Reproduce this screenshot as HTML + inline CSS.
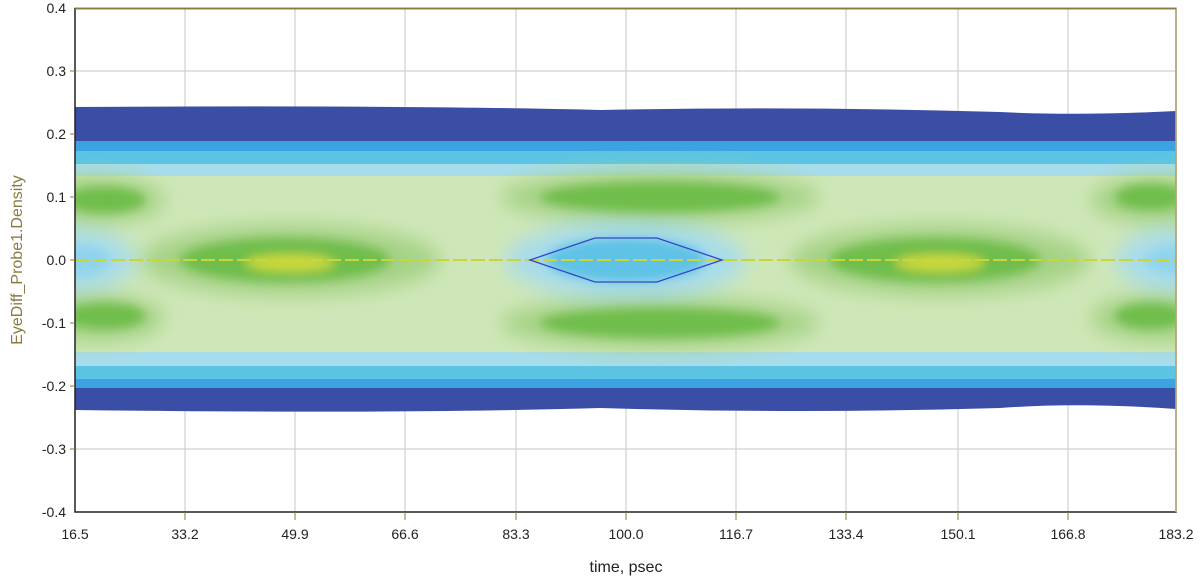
<!DOCTYPE html>
<html><head><meta charset="utf-8"><style>
html,body{margin:0;padding:0;background:#fff;}
svg{display:block;font-family:"Liberation Sans",sans-serif;}
</style></head><body>
<svg width="1200" height="583" viewBox="0 0 1200 583" xmlns="http://www.w3.org/2000/svg">
<defs>
<filter id="b" x="-20%" y="-50%" width="140%" height="200%"><feGaussianBlur stdDeviation="10"/></filter>
<filter id="b2" x="-20%" y="-50%" width="140%" height="200%"><feGaussianBlur stdDeviation="5"/></filter>
<clipPath id="c"><rect x="75" y="100" width="1101" height="320"/></clipPath>
</defs>
<g stroke="#cfd2cc" stroke-width="1.2">
<line x1="75" y1="71" x2="1176" y2="71"/><line x1="75" y1="134" x2="1176" y2="134"/>
<line x1="75" y1="197" x2="1176" y2="197"/><line x1="75" y1="323" x2="1176" y2="323"/>
<line x1="75" y1="386" x2="1176" y2="386"/><line x1="75" y1="449" x2="1176" y2="449"/>
<line x1="185" y1="8" x2="185" y2="512"/><line x1="295" y1="8" x2="295" y2="512"/>
<line x1="405" y1="8" x2="405" y2="512"/><line x1="516" y1="8" x2="516" y2="512"/>
<line x1="626" y1="8" x2="626" y2="512"/><line x1="736" y1="8" x2="736" y2="512"/>
<line x1="846" y1="8" x2="846" y2="512"/><line x1="958" y1="8" x2="958" y2="512"/>
<line x1="1068" y1="8" x2="1068" y2="512"/>
</g>
<g clip-path="url(#c)">
<path d="M75 107 Q400 105 600 110 Q800 106 1000 112 Q1080 116 1176 111 L1176 409 Q1080 402 1000 408 Q800 414 600 408 Q400 414 75 410 Z" fill="#3b4ea6"/>
<rect x="75" y="141" width="1101" height="247" fill="#3ba3e2"/>
<rect x="75" y="151" width="1101" height="228" fill="#5bc4e4"/>
<rect x="75" y="164" width="1101" height="202" fill="#a7dcec"/>
<rect x="75" y="176" width="1101" height="176" fill="#cfe7b8"/>
<g filter="url(#b)">
<ellipse cx="660" cy="197" rx="160" ry="26" fill="#a5d285"/>
<ellipse cx="660" cy="323" rx="160" ry="26" fill="#a5d285"/>
<ellipse cx="95" cy="200" rx="70" ry="24" fill="#a5d285"/>
<ellipse cx="95" cy="318" rx="70" ry="24" fill="#a5d285"/>
<ellipse cx="1160" cy="200" rx="70" ry="24" fill="#a5d285"/>
<ellipse cx="1160" cy="318" rx="70" ry="24" fill="#a5d285"/>
<ellipse cx="290" cy="260" rx="150" ry="36" fill="#a5d285"/>
<ellipse cx="940" cy="260" rx="150" ry="36" fill="#a5d285"/>
<ellipse cx="626" cy="260" rx="120" ry="38" fill="#a7dcec"/>
<ellipse cx="75" cy="260" rx="60" ry="30" fill="#a7dcec"/>
<ellipse cx="1176" cy="260" rx="60" ry="30" fill="#a7dcec"/>
</g>
<g filter="url(#b2)">
<ellipse cx="660" cy="197" rx="120" ry="15" fill="#6fbd4b"/>
<ellipse cx="660" cy="323" rx="120" ry="15" fill="#6fbd4b"/>
<ellipse cx="105" cy="200" rx="40" ry="13" fill="#6fbd4b"/>
<ellipse cx="105" cy="316" rx="40" ry="13" fill="#6fbd4b"/>
<ellipse cx="1150" cy="197" rx="35" ry="13" fill="#6fbd4b"/>
<ellipse cx="1150" cy="316" rx="35" ry="13" fill="#6fbd4b"/>
<ellipse cx="285" cy="260" rx="105" ry="22" fill="#6fbd4b"/>
<ellipse cx="935" cy="260" rx="105" ry="22" fill="#6fbd4b"/>
<ellipse cx="290" cy="263" rx="45" ry="9" fill="#c7d83e"/>
<ellipse cx="940" cy="263" rx="45" ry="9" fill="#c7d83e"/>
<ellipse cx="626" cy="260" rx="80" ry="22" fill="#5ec2e6"/>
<ellipse cx="75" cy="260" rx="35" ry="16" fill="#8fd4ec"/>
<ellipse cx="1176" cy="260" rx="30" ry="14" fill="#8fd4ec"/>
</g>
<line x1="75" y1="260" x2="1176" y2="260" stroke="#c9d63a" stroke-width="2" stroke-dasharray="14 4"/>
</g>
<polygon points="530,260 595,238 657,238 722,260 657,282 595,282" fill="none" stroke="#3545c8" stroke-width="1.3"/>
<rect x="75" y="8.5" width="1101" height="503.5" fill="none" stroke="#222" stroke-width="1.5"/>
<line x1="1176" y1="8" x2="1176" y2="512" stroke="#c9b889" stroke-width="1.5"/>
<line x1="75" y1="8.5" x2="1176" y2="8.5" stroke="#8a7a40" stroke-width="1.5"/>
<g stroke="#8a7a40" stroke-width="1">
<line x1="70" y1="71" x2="75" y2="71"/><line x1="70" y1="134" x2="75" y2="134"/><line x1="70" y1="197" x2="75" y2="197"/><line x1="70" y1="260" x2="75" y2="260"/><line x1="70" y1="323" x2="75" y2="323"/><line x1="70" y1="386" x2="75" y2="386"/><line x1="70" y1="449" x2="75" y2="449"/>
<line x1="185" y1="512" x2="185" y2="520"/><line x1="295" y1="512" x2="295" y2="520"/><line x1="405" y1="512" x2="405" y2="520"/><line x1="516" y1="512" x2="516" y2="520"/><line x1="626" y1="512" x2="626" y2="520"/><line x1="736" y1="512" x2="736" y2="520"/><line x1="846" y1="512" x2="846" y2="520"/><line x1="958" y1="512" x2="958" y2="520"/><line x1="1068" y1="512" x2="1068" y2="520"/>
</g>
<g font-size="14" fill="#222" text-anchor="end">
<text x="66" y="13">0.4</text><text x="66" y="76">0.3</text><text x="66" y="139">0.2</text><text x="66" y="202">0.1</text><text x="66" y="265">0.0</text><text x="66" y="328">-0.1</text><text x="66" y="391">-0.2</text><text x="66" y="454">-0.3</text><text x="66" y="517">-0.4</text>
</g>
<g font-size="14" fill="#222" text-anchor="middle">
<text x="75" y="539">16.5</text><text x="185" y="539">33.2</text><text x="295" y="539">49.9</text><text x="405" y="539">66.6</text><text x="516" y="539">83.3</text><text x="626" y="539">100.0</text><text x="736" y="539">116.7</text><text x="846" y="539">133.4</text><text x="958" y="539">150.1</text><text x="1068" y="539">166.8</text><text x="1176" y="539">183.2</text>
</g>
<text x="626" y="572" font-size="16" fill="#222" text-anchor="middle">time, psec</text>
<text transform="translate(22,260) rotate(-90)" font-size="16" fill="#8a7a40" text-anchor="middle">EyeDiff_Probe1.Density</text>
</svg>
</body></html>
